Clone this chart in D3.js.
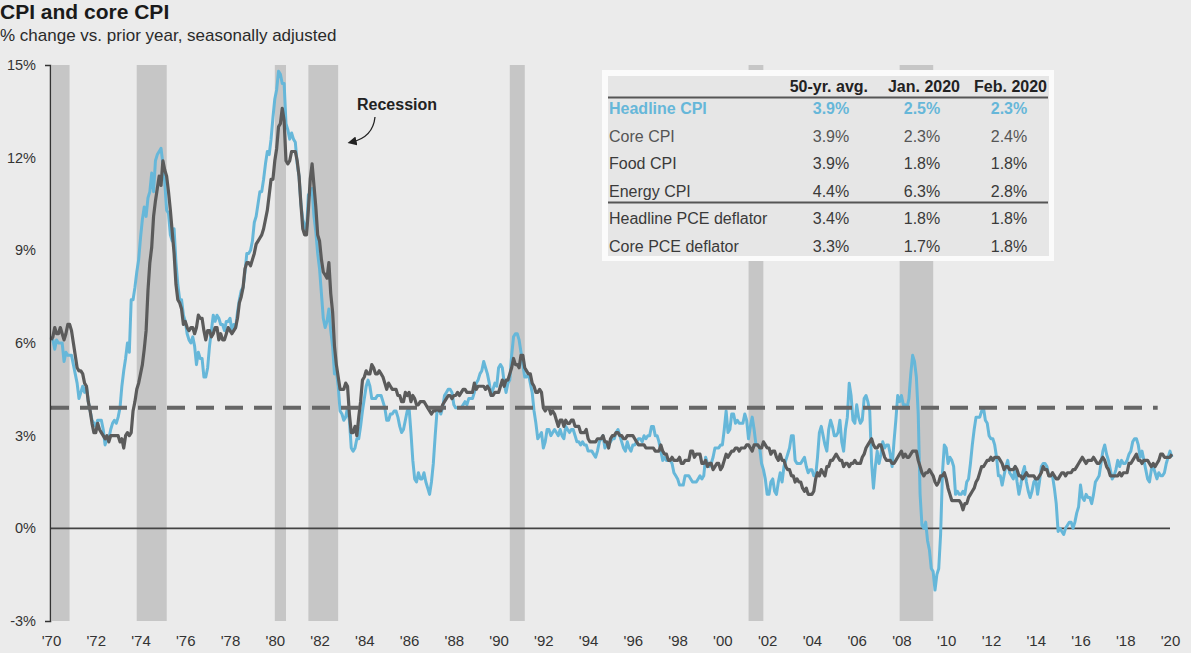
<!DOCTYPE html>
<html><head><meta charset="utf-8">
<script src="https://cdn.jsdelivr.net/npm/d3@7/dist/d3.min.js"></script>
<style>
html,body{margin:0;padding:0;background:#ebebeb;}
svg{display:block;font-family:"Liberation Sans",Arial,sans-serif;}
</style></head><body>
<svg id="chart" width="1191" height="653"></svg>
<script>
// ---- DATA ----
const startYear = 1970; // monthly data, first point = Jan 1970
const headlineCPI = [
6.2,6.1,5.8,6.1,6.0,6.0,6.0,5.4,5.7,5.6,5.6,5.6,
5.3,5.0,4.7,4.2,4.4,4.6,4.4,4.6,4.1,3.8,3.5,3.4,
3.3,3.5,3.5,3.5,3.2,2.7,2.9,2.9,3.2,3.4,3.5,3.4,
3.6,3.9,4.6,5.1,5.5,6.0,5.7,7.4,7.4,7.8,8.3,8.7,
9.4,10.0,10.4,10.1,10.7,10.9,11.5,10.9,11.9,12.1,12.2,12.3,
11.8,11.2,10.3,10.2,9.5,9.3,9.7,8.6,7.9,7.4,7.4,6.9,
6.7,6.3,6.1,6.0,6.2,5.9,5.3,5.7,5.5,5.5,4.9,4.9,
5.2,5.9,6.4,6.9,6.7,6.9,6.8,6.6,6.6,6.4,6.7,6.7,
6.8,6.4,6.6,6.5,7.0,7.4,7.7,7.8,8.3,8.9,8.9,9.0,
9.3,9.9,10.1,10.5,10.9,10.9,11.3,11.8,12.2,12.1,12.6,13.3,
13.9,14.2,14.8,14.7,14.4,14.4,13.1,12.9,12.6,12.8,12.6,12.5,
11.8,11.4,10.5,10.0,9.8,9.6,10.8,10.8,11.0,10.1,9.6,8.9,
8.4,7.6,6.8,6.5,6.7,7.1,6.4,5.9,5.0,5.1,4.6,3.8,
3.7,3.5,3.6,3.9,3.5,2.6,2.5,2.6,2.9,2.9,3.3,3.8,
4.2,4.6,4.8,4.6,4.2,4.2,4.2,4.3,4.3,4.3,4.1,3.9,
3.5,3.5,3.7,3.7,3.8,3.8,3.6,3.3,3.1,3.2,3.5,3.8,
3.9,3.1,2.2,1.6,1.5,1.8,1.6,1.6,1.8,1.5,1.3,1.1,
1.5,2.1,3.0,3.8,3.9,3.7,3.9,4.3,4.4,4.5,4.5,4.4,
4.0,3.9,3.9,3.9,3.9,4.0,4.1,4.0,4.2,4.2,4.2,4.4,
4.7,4.8,5.0,5.1,5.4,5.2,5.0,4.7,4.3,4.5,4.7,4.6,
5.2,5.3,5.2,4.7,4.4,4.7,4.8,5.6,6.2,6.3,6.3,6.1,
5.7,5.3,4.9,4.9,5.0,4.7,4.4,3.8,3.4,2.9,3.0,3.1,
2.6,2.8,3.2,3.2,3.0,3.1,3.2,3.1,3.0,3.2,3.0,2.9,
3.3,3.2,3.1,3.2,3.2,3.0,2.8,2.8,2.7,2.8,2.7,2.7,
2.5,2.5,2.5,2.4,2.3,2.5,2.8,2.9,3.0,2.6,2.7,2.7,
2.8,2.9,2.9,3.1,3.2,3.0,2.8,2.6,2.5,2.8,2.6,2.5,
2.7,2.7,2.8,2.9,2.9,2.8,3.0,2.9,3.0,3.0,3.3,3.3,
3.0,3.0,2.8,2.5,2.2,2.3,2.2,2.2,2.2,2.1,1.8,1.7,
1.6,1.4,1.4,1.4,1.7,1.7,1.7,1.6,1.5,1.5,1.5,1.6,
1.7,1.6,1.7,2.3,2.1,2.0,2.1,2.3,2.6,2.6,2.6,2.7,
2.7,3.2,3.8,3.1,3.2,3.7,3.7,3.4,3.5,3.4,3.4,3.4,
3.7,3.5,2.9,3.3,3.6,3.2,2.7,2.7,2.6,2.1,1.9,1.6,
1.1,1.1,1.5,1.6,1.2,1.1,1.5,1.8,1.5,2.0,2.2,2.4,
2.6,3.0,3.0,2.2,2.1,2.1,2.1,2.2,2.3,2.0,1.8,1.9,
1.9,1.7,1.7,2.3,3.1,3.3,3.0,2.7,2.5,3.2,3.5,3.3,
3.0,3.0,3.1,3.5,2.8,2.5,3.2,3.6,4.7,4.3,3.5,3.4,
4.0,3.6,3.4,3.5,4.2,4.3,4.1,3.8,2.1,1.3,2.0,2.5,
2.1,2.4,2.8,2.6,2.7,2.7,2.4,2.0,2.8,3.5,4.3,4.1,
4.3,4.0,4.0,3.9,4.2,5.0,5.6,5.4,4.9,3.7,1.1,0.1,
0.0,0.2,-0.4,-0.7,-1.3,-1.4,-2.0,-1.5,-1.3,-0.2,1.8,2.7,
2.6,2.1,2.3,2.2,2.0,1.1,1.2,1.1,1.1,1.2,1.1,1.5,
1.6,2.1,2.7,3.2,3.6,3.6,3.6,3.8,3.9,3.5,3.4,3.0,
2.9,2.9,2.7,2.3,1.7,1.7,1.4,1.7,2.0,2.2,1.8,1.7,
1.6,2.0,1.5,1.1,1.4,1.8,2.0,1.5,1.2,1.0,1.2,1.5,
1.6,1.1,1.5,2.0,2.1,2.1,2.0,1.7,1.7,1.7,1.3,0.8,
-0.1,0.0,-0.1,-0.2,0.0,0.1,0.2,0.2,0.0,0.2,0.5,0.7,
1.4,1.0,0.9,1.1,1.0,1.0,0.8,1.1,1.5,1.6,1.7,2.1,
2.5,2.7,2.4,2.2,1.9,1.6,1.7,1.9,2.2,2.0,2.2,2.1,
2.1,2.2,2.4,2.5,2.8,2.9,2.9,2.7,2.3,2.5,2.2,1.9,
1.6,1.5,1.9,2.0,1.8,1.6,1.8,1.7,1.7,1.8,2.1,2.3,
2.5,2.3
];
const coreCPI = [
6.1,6.2,6.5,6.3,6.3,6.5,6.3,6.1,6.3,6.6,6.6,6.4,
6.0,5.6,5.2,5.1,5.1,5.0,4.7,4.6,4.1,3.8,3.4,3.1,
3.1,3.4,3.2,3.1,3.0,2.9,3.0,2.8,3.0,3.0,3.0,3.0,
3.0,2.8,2.9,2.6,3.0,3.1,3.0,3.1,3.8,4.1,4.5,4.7,
5.0,5.3,5.8,6.4,7.7,8.6,9.1,10.1,10.6,11.0,11.4,11.1,
11.9,11.6,11.4,10.9,10.3,9.6,8.9,7.9,7.4,7.3,7.1,6.6,
6.7,6.5,6.4,6.5,6.5,6.3,6.5,6.9,6.8,6.8,6.4,6.1,
6.4,6.4,6.2,6.3,6.5,6.5,6.1,6.3,6.1,6.1,6.3,6.5,
6.4,6.3,6.4,6.5,6.8,7.3,7.5,7.8,8.4,8.6,8.6,8.5,
8.7,8.9,9.2,9.3,9.4,9.5,9.7,10.0,10.3,10.8,11.3,11.3,
11.9,12.3,13.0,13.1,13.6,13.2,11.9,11.8,11.9,12.2,12.2,12.2,
11.9,11.4,10.5,9.7,9.5,9.5,10.3,11.3,11.8,11.1,10.4,9.5,
9.3,8.7,8.3,8.2,8.1,8.6,7.6,7.0,5.9,5.3,4.9,4.5,
4.5,4.5,4.7,4.6,3.7,3.1,3.1,3.3,3.0,3.6,4.1,4.8,
4.9,5.1,5.0,5.0,5.3,5.2,5.0,5.0,5.1,5.0,4.9,4.7,
4.5,4.7,4.6,4.5,4.5,4.5,4.3,4.3,4.1,4.1,4.4,4.3,
4.4,4.1,4.3,4.2,4.0,4.0,4.1,4.1,4.1,4.0,3.9,3.8,
3.7,3.8,3.8,3.9,3.8,3.8,4.0,4.1,4.2,4.3,4.3,4.2,
4.3,4.3,4.4,4.3,4.4,4.5,4.5,4.4,4.4,4.4,4.4,4.7,
4.5,4.6,4.6,4.6,4.6,4.5,4.6,4.5,4.3,4.3,4.4,4.4,
4.4,4.6,4.8,4.6,4.8,4.8,5.0,5.2,5.5,5.3,5.3,5.2,
5.6,5.6,5.2,5.1,5.0,5.0,4.7,4.6,4.4,4.4,4.5,4.4,
3.9,3.8,3.9,3.9,3.7,3.8,3.7,3.5,3.3,3.5,3.5,3.3,
3.5,3.4,3.4,3.5,3.5,3.3,3.3,3.3,3.1,3.1,3.1,3.2,
2.9,2.8,2.8,2.8,2.8,2.9,2.9,2.9,3.0,2.8,2.8,2.6,
2.9,3.0,3.0,3.1,3.1,3.0,3.0,2.9,2.9,3.0,3.0,3.0,
3.0,2.9,2.8,2.7,2.7,2.7,2.7,2.6,2.6,2.6,2.6,2.6,
2.5,2.5,2.5,2.7,2.5,2.4,2.4,2.2,2.2,2.3,2.2,2.2,
2.2,2.3,2.1,2.1,2.2,2.2,2.2,2.5,2.5,2.3,2.4,2.4,
2.4,2.1,2.1,2.2,2.0,2.1,2.1,1.9,2.0,2.1,2.1,1.9,
2.0,2.2,2.4,2.3,2.4,2.5,2.5,2.6,2.6,2.5,2.6,2.6,
2.6,2.7,2.7,2.6,2.5,2.7,2.7,2.7,2.6,2.6,2.8,2.7,
2.6,2.6,2.4,2.5,2.5,2.3,2.2,2.4,2.2,2.2,2.0,1.9,
1.9,1.7,1.7,1.5,1.6,1.5,1.5,1.3,1.2,1.3,1.1,1.1,
1.1,1.2,1.6,1.8,1.7,1.9,1.8,1.7,2.0,2.0,2.2,2.2,
2.3,2.4,2.3,2.2,2.2,2.0,2.1,2.1,2.0,2.1,2.1,2.2,
2.1,2.1,2.1,2.3,2.4,2.6,2.7,2.8,2.9,2.7,2.6,2.6,
2.7,2.7,2.5,2.3,2.2,2.2,2.2,2.1,2.1,2.2,2.3,2.4,
2.5,2.3,2.4,2.3,2.3,2.4,2.5,2.5,2.5,2.2,2.0,1.8,
1.7,1.8,1.8,1.9,1.8,1.7,1.5,1.4,1.5,1.7,1.7,1.8,
1.6,1.3,1.1,0.9,0.9,0.9,0.9,0.9,0.8,0.6,0.8,0.8,
1.0,1.1,1.2,1.3,1.5,1.6,1.8,2.0,2.0,2.1,2.2,2.2,
2.3,2.2,2.3,2.3,2.3,2.2,2.1,1.9,2.0,2.0,1.9,1.9,
1.9,2.0,1.9,1.7,1.7,1.6,1.7,1.8,1.7,1.7,1.7,1.7,
1.6,1.6,1.7,1.8,2.0,1.9,1.9,1.7,1.7,1.8,1.7,1.6,
1.6,1.7,1.8,1.8,1.7,1.8,1.8,1.8,1.9,1.9,2.0,2.1,
2.2,2.3,2.2,2.1,2.2,2.2,2.2,2.3,2.2,2.1,2.1,2.2,
2.3,2.2,2.0,1.9,1.7,1.7,1.7,1.7,1.7,1.8,1.7,1.8,
1.8,1.8,2.1,2.1,2.2,2.3,2.4,2.2,2.2,2.1,2.2,2.2,
2.2,2.1,2.0,2.1,2.0,2.1,2.2,2.4,2.4,2.3,2.3,2.3,
2.3,2.4
];
const fiftyYearAvg = 3.9;
const recessionStart = [1969.92, 1973.83, 1980.0, 1981.5, 1990.5, 2001.17, 2007.92];
const recessionEnd   = [1970.83, 1975.17, 1980.5, 1982.83, 1991.17, 2001.83, 2009.42];
const yTicks = [-3, 0, 3, 6, 9, 12, 15];
const xTicks = [1970,1972,1974,1976,1978,1980,1982,1984,1986,1988,1990,1992,1994,1996,1998,2000,2002,2004,2006,2008,2010,2012,2014,2016,2018,2020];
const tableHeaders = ["50-yr. avg.", "Jan. 2020", "Feb. 2020"];
const tableRows = ["Headline CPI", "Core CPI", "Food CPI", "Energy CPI", "Headline PCE deflator", "Core PCE deflator"];
const avg50 = ["3.9%", "3.9%", "3.9%", "4.4%", "3.4%", "3.3%"];
const jan2020 = ["2.5%", "2.3%", "1.8%", "6.3%", "1.8%", "1.7%"];
const feb2020 = ["2.3%", "2.4%", "1.8%", "2.8%", "1.8%", "1.8%"];

// ---- CHART ----
const svg = d3.select("#chart");
const BLUE = "#66b7d9", GRAY = "#5b5b5b";
const FONT = "Liberation Sans, Arial, sans-serif";
const x = d3.scaleLinear().domain([1970, 2020]).range([51, 1170]);
const y = d3.scaleLinear().domain([-3, 15]).range([621, 65]);

const toPts = arr => arr.map((v, i) => ({t: startYear + i / 12, v}));
const headPts = toPts(headlineCPI), corePts = toPts(coreCPI);

// recession bands
svg.append("g").selectAll("rect").data(recessionStart).join("rect")
  .attr("x", (d) => Math.max(x(d), 52))
  .attr("width", (d, i) => x(recessionEnd[i]) - Math.max(x(d), 52))
  .attr("y", y(15)).attr("height", y(-3) - y(15))
  .attr("fill", "#c6c6c6");

// zero line
svg.append("line").attr("x1", x(1970)).attr("x2", x(2020)).attr("y1", y(0)).attr("y2", y(0))
  .attr("stroke", "#444").attr("stroke-width", 1.6);

const line = d3.line().x(d => x(d.t)).y(d => y(d.v)).curve(d3.curveLinear);
svg.append("path").datum(headPts).attr("d", line).attr("fill", "none")
  .attr("stroke", BLUE).attr("stroke-width", 3).attr("stroke-linejoin", "round");
svg.append("path").datum(corePts).attr("d", line).attr("fill", "none")
  .attr("stroke", GRAY).attr("stroke-width", 3.2).attr("stroke-linejoin", "round");

// 50-yr avg dashed
svg.append("line").attr("x1", x(1970)).attr("x2", x(2019.45)).attr("y1", y(fiftyYearAvg)).attr("y2", y(fiftyYearAvg))
  .attr("stroke", "#666").attr("stroke-width", 4).attr("stroke-dasharray", "18,11");

// y axis
const yAxis = svg.append("g").attr("transform", "translate(50,0)")
  .call(d3.axisLeft(y).tickValues(yTicks).tickFormat(d => d + "%").tickSizeInner(0).tickSizeOuter(5).tickPadding(14));
yAxis.select(".domain").attr("stroke", "#333").attr("stroke-width", 1.5);
yAxis.selectAll("text").attr("font-size", 14.5).attr("fill", "#333").attr("font-family", FONT);

// x axis
const xAxis = svg.append("g").attr("transform", "translate(0,621)")
  .call(d3.axisBottom(x).tickValues(xTicks).tickFormat(d => "'" + String(d).slice(2)).tickSize(0).tickPadding(14));
xAxis.select(".domain").remove();
xAxis.selectAll("text").attr("font-size", 15).attr("fill", "#333").attr("font-family", FONT);

// title
svg.append("text").attr("x", 0).attr("y", 19).text("CPI and core CPI")
  .attr("font-size", 21).attr("font-weight", "bold").attr("fill", "#1a1a1a");
svg.append("text").attr("x", 0).attr("y", 41).text("% change vs. prior year, seasonally adjusted")
  .attr("font-size", 17).attr("fill", "#2a2a2a");

// recession annotation
svg.append("defs").append("marker").attr("id", "ah").attr("viewBox", "0 0 10 10")
  .attr("refX", 5).attr("refY", 5).attr("markerWidth", 7).attr("markerHeight", 7).attr("orient", "auto-start-reverse")
  .append("path").attr("d", "M0,0 L10,5 L0,10 z").attr("fill", "#222");
svg.append("text").attr("x", 357).attr("y", 110).text("Recession")
  .attr("font-size", 16).attr("font-weight", "bold").attr("fill", "#222");
svg.append("path").attr("d", "M375,117 Q373,137 352,142").attr("fill", "none")
  .attr("stroke", "#222").attr("stroke-width", 1.3).attr("marker-end", "url(#ah)");

// table
const tb = svg.append("g");
tb.append("rect").attr("x", 602).attr("y", 70).attr("width", 452).attr("height", 191).attr("fill", "#fbfbfb");
tb.append("rect").attr("x", 608).attr("y", 76).attr("width", 441).attr("height", 180).attr("fill", "#e6e6e6");
const colRight = [868, 960, 1047];
const colCenter = [831, 922, 1009];
tb.selectAll("text.h").data(tableHeaders).join("text").attr("class", "h")
  .attr("x", (d, i) => colRight[i]).attr("y", 92).attr("text-anchor", "end")
  .attr("font-size", 16).attr("font-weight", "bold").attr("fill", "#222").text(d => d);
tb.append("line").attr("x1", 608).attr("x2", 1048).attr("y1", 97.5).attr("y2", 97.5).attr("stroke", "#555").attr("stroke-width", 2);
tb.append("line").attr("x1", 608).attr("x2", 1048).attr("y1", 202.5).attr("y2", 202.5).attr("stroke", "#555").attr("stroke-width", 2);
const rowY = [114, 142, 169, 197, 224, 252];
tableRows.forEach((r, i) => {
  const col = i === 0 ? BLUE : (i === 1 ? "#555" : "#3a3a3a");
  const g = tb.append("g").attr("fill", col).attr("font-size", 16).attr("font-weight", i === 0 ? "bold" : "normal");
  g.append("text").attr("x", 609).attr("y", rowY[i]).text(r);
  [avg50[i], jan2020[i], feb2020[i]].forEach((v, j) => {
    g.append("text").attr("x", colCenter[j]).attr("y", rowY[i]).attr("text-anchor", "middle").text(v);
  });
});
</script>
</body></html>
